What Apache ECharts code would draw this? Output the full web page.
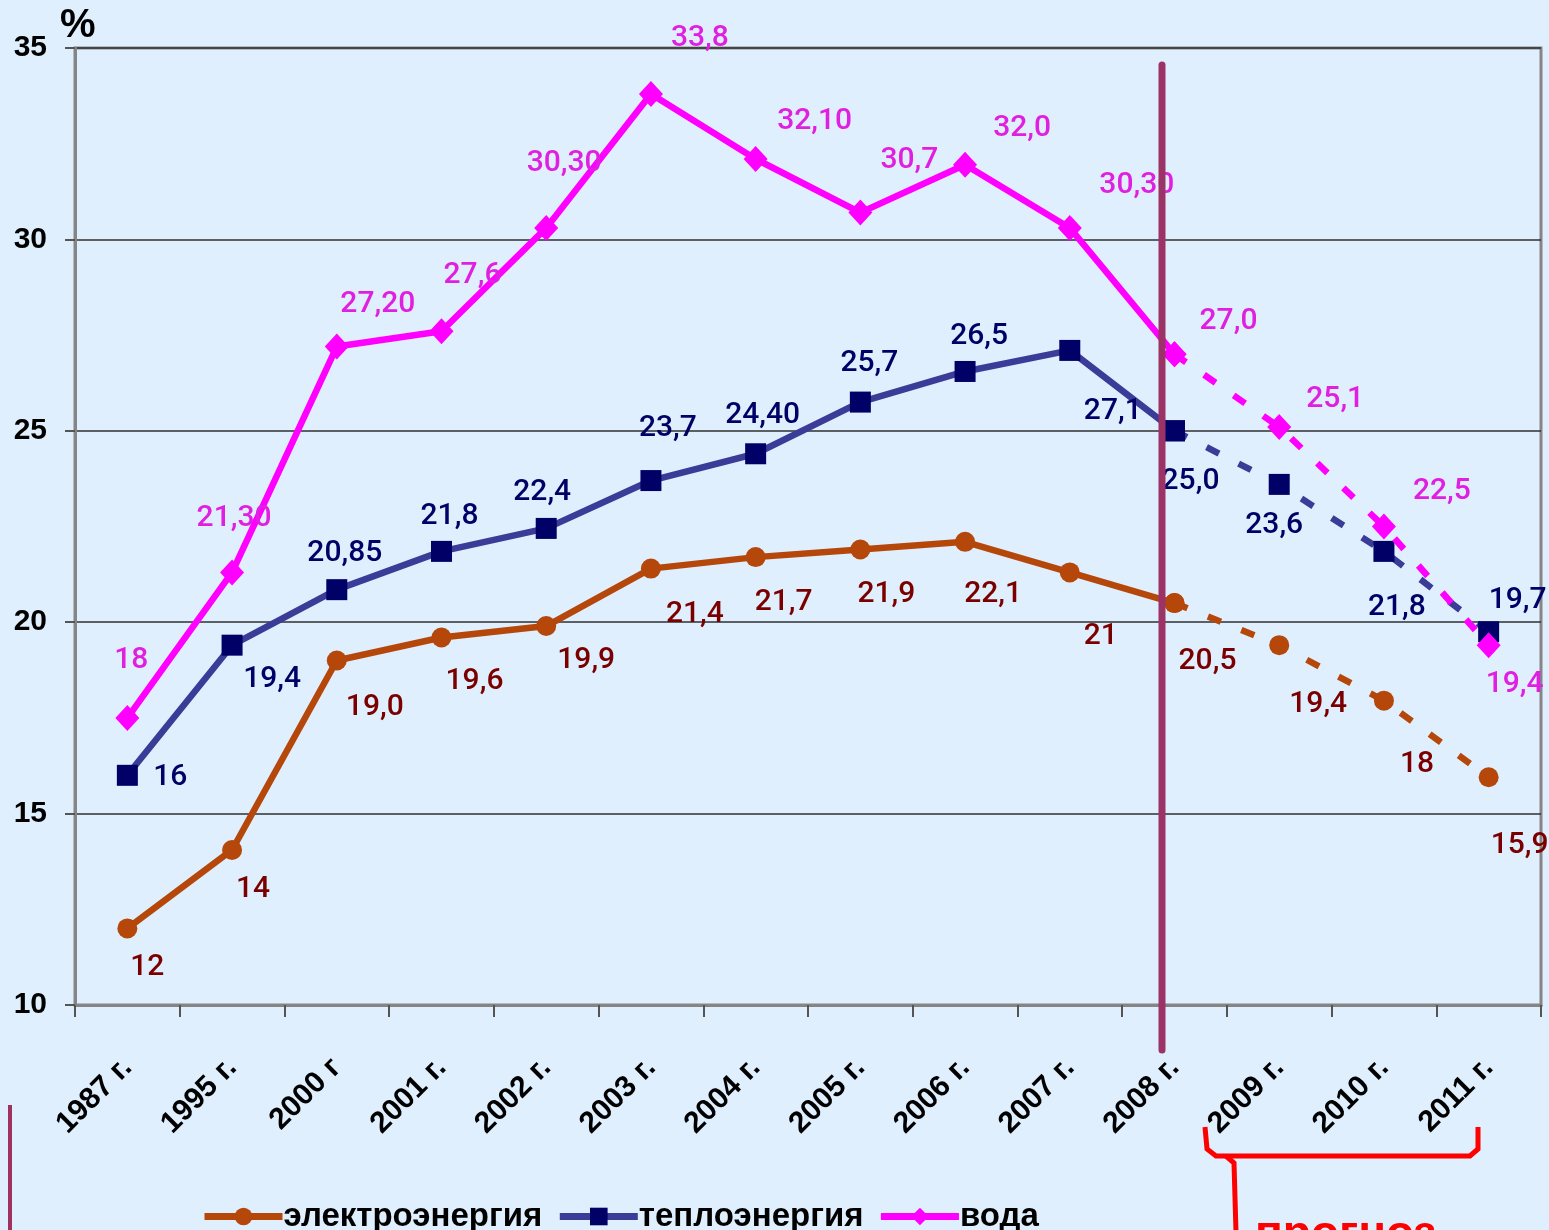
<!DOCTYPE html>
<html><head><meta charset="utf-8">
<script src="https://cdn.jsdelivr.net/npm/echarts@6/dist/echarts.min.js"></script>
<style>html,body{margin:0;padding:0;background:#E0EFFD}#c{width:1549px;height:1230px}</style>
</head><body><div id="c"></div>
<script>
const categories = ['1987 г.','1995 г.','2000 г','2001 г.','2002 г.','2003 г.','2004 г.','2005 г.','2006 г.','2007 г.','2008 г.','2009 г.','2010 г.','2011 г.'];
const elecValues  = [12.0, 14.05, 19.0, 19.6, 19.9, 21.4, 21.7, 21.9, 22.1, 21.3, 20.5, 19.4, 17.95, 15.95];
const heatValues  = [16.0, 19.4, 20.85, 21.85, 22.45, 23.7, 24.4, 25.75, 26.55, 27.1, 25.0, 23.6, 21.85, 19.75];
const waterValues = [17.5, 21.3, 27.2, 27.6, 30.3, 33.8, 32.1, 30.7, 31.95, 30.3, 27.0, 25.1, 22.5, 19.4];
const elecLabels  = ['12','14','19,0','19,6','19,9','21,4','21,7','21,9','22,1','21','20,5','19,4','18','15,9'];
const heatLabels  = ['16','19,4','20,85','21,8','22,4','23,7','24,40','25,7','26,5','27,1','25,0','23,6','21,8','19,7'];
const waterLabels = ['18','21,30','27,20','27,6','30,30','33,8','32,10','30,7','32,0','30,30','27,0','25,1','22,5','19,4'];
const yTicks = [10, 15, 20, 25, 30, 35];
const forecastStart = 10;

// label placement (offsets of label centre from the point)
const elecOffsets  = [[20,39],[21,40],[38,47],[33,44],[40,34],[44,46],[28,45],[26,45],[28,53],[31,64],[33,58],[39,59],[33,64],[31,68]];
const heatOffsets  = [[43,2],[40,34],[8,-36],[8,-35],[-4,-36],[17,-52],[7,-38],[9,-39],[14,-35],[43,61],[16,51],[-5,41],[13,56],[29,-31]];
const waterOffsets = [[4,-57],[2,-54],[41,-42],[31,-56],[18,-64],[49,-55],[59,-38],[49,-52],[57,-36],[67,-42],[54,-33],[56,-27],[58,-35],[26,39]];

const FONT = 'Roboto';
function items(values, labels, offsets, color, from, to) {
  return values.map((v, i) => {
    if (i < from || i > to) return null;
    const showLabel = (from === 0) ? true : i > from;
    return {
      value: v,
      label: {
        show: showLabel, formatter: labels[i], position: 'inside', offset: offsets[i],
        color: color, fontSize: 30, fontWeight: 500, fontFamily: FONT
      }
    };
  });
}
function lineSeries(name, values, labels, offsets, cfg, dashed) {
  const from = dashed ? forecastStart : 0;
  const to = dashed ? values.length - 1 : forecastStart;
  return {
    name: name, type: 'line',
    data: items(values, labels, offsets, cfg.labelColor, from, to),
    symbol: cfg.symbol, symbolSize: cfg.symbolSize,
    itemStyle: { color: cfg.markerColor },
    lineStyle: { color: cfg.lineColor, width: 6.5, type: dashed ? [14, 22] : 'solid' },
    connectNulls: false, z: cfg.z, animation: false,
    emphasis: { disabled: true }
  };
}
const elecCfg  = { symbol: 'circle', symbolSize: 20, markerColor: '#B5470A', lineColor: '#B5470A', labelColor: '#7A0000', z: 2 };
const heatCfg  = { symbol: 'rect', symbolSize: 21, markerColor: '#000066', lineColor: '#3B3B98', labelColor: '#000066', z: 3 };
const waterCfg = { symbol: 'diamond', symbolSize: [24, 26], markerColor: '#FF00FF', lineColor: '#FF00FF', labelColor: '#E020E0', z: 4 };

const chart = echarts.init(document.getElementById('c'), null, { renderer: 'canvas' });
chart.setOption({
  backgroundColor: '#E0EFFD',
  animation: false,
  grid: { left: 75, right: 8, top: 48, bottom: 225, show: true, borderColor: '#858585', borderWidth: 3, backgroundColor: 'transparent' },
  legend: {
    data: [
      { name: 'электроэнергия' }, { name: 'теплоэнергия' }, { name: 'вода' }
    ],
    top: 1195, left: 196, itemWidth: 78, itemHeight: 22, itemGap: 14,
    lineStyle: { width: 7 },
    textStyle: { fontSize: 33, fontWeight: 'bold', color: '#000', fontFamily: 'Liberation Sans', padding: [0,0,0,-4] }
  },
  xAxis: {
    type: 'category', data: categories, boundaryGap: true,
    axisLine: { lineStyle: { color: '#858585', width: 3 } },
    axisTick: { show: true, length: 12, alignWithLabel: false, lineStyle: { color: '#555', width: 2 } },
    axisLabel: { rotate: 45, margin: 58, fontSize: 30, fontWeight: 'bold', color: '#000', fontFamily: 'Liberation Sans', interval: 0 }
  },
  yAxis: {
    type: 'value', min: yTicks[0], max: yTicks[yTicks.length - 1], interval: 5,
    axisLine: { show: true, lineStyle: { color: '#858585', width: 3 } },
    axisTick: { show: true, length: 10, lineStyle: { color: '#555', width: 2 } },
    axisLabel: { fontSize: 30, fontWeight: 'bold', color: '#000', fontFamily: 'Liberation Sans', margin: 28 },
    splitLine: { lineStyle: { color: '#303030', width: 1.5 } }
  },
  series: [
    lineSeries('электроэнергия', elecValues, elecLabels, elecOffsets, elecCfg, false),
    lineSeries('теплоэнергия', heatValues, heatLabels, heatOffsets, heatCfg, false),
    lineSeries('вода', waterValues, waterLabels, waterOffsets, waterCfg, false),
    lineSeries('электроэнергия (прогноз)', elecValues, elecLabels, elecOffsets, elecCfg, true),
    lineSeries('теплоэнергия (прогноз)', heatValues, heatLabels, heatOffsets, heatCfg, true),
    lineSeries('вода (прогноз)', waterValues, waterLabels, waterOffsets, waterCfg, true)
  ],
  graphic: [
    { type: 'line', shape: { x1: 1162, y1: 65, x2: 1162, y2: 1050 }, style: { stroke: '#9B3366', lineWidth: 7, lineCap: 'round' }, z: 10 },
    { type: 'line', shape: { x1: 10, y1: 1105, x2: 10, y2: 1232 }, style: { stroke: '#A03060', lineWidth: 4 } },
    { type: 'polyline', shape: { points: [[1205,1127],[1207,1149],[1216,1156],[1470,1156],[1478,1149],[1478,1127]] }, style: { stroke: '#FF0000', lineWidth: 5, fill: null } },
    { type: 'polyline', shape: { points: [[1226,1156],[1234,1163],[1236,1232]] }, style: { stroke: '#FF0000', lineWidth: 5, fill: null } },
    { type: 'text', left: 1255, top: 1212, style: { text: 'прогноз', fill: '#FF0000', font: 'bold 46px "Liberation Sans"' } },
    { type: 'text', left: 60, top: 6, style: { text: '%', fill: '#000', font: 'bold 40px "Liberation Sans"' } }
  ]
});
</script></body></html>
